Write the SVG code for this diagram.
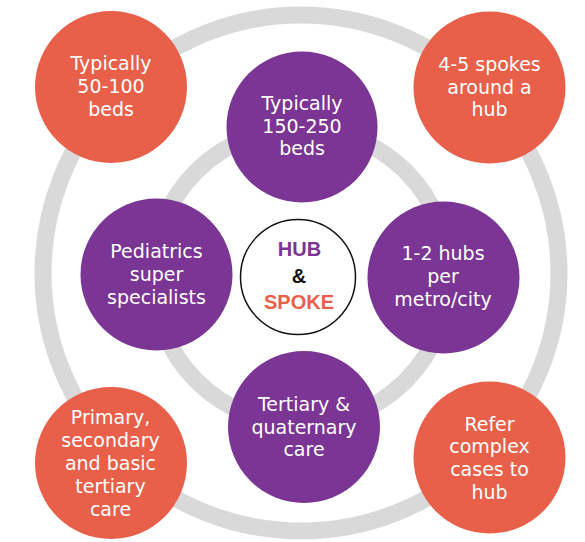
<svg xmlns="http://www.w3.org/2000/svg" width="585" height="542" viewBox="0 0 585 542">
  <style>
    .ring { fill: none; stroke: #D9D9D9; stroke-width: 17; }
    .orange { fill: #E8604A; }
    .purple { fill: #7B3594; }
    .lbl { font-family: "DejaVu Sans", "Noto Sans", sans-serif; font-size: 19px; fill: #FFFFFF; text-anchor: middle; }
    .hub { font-family: "Liberation Sans", Arial, sans-serif; font-weight: bold; font-size: 20px; text-anchor: middle; }
  </style>
  <rect width="585" height="542" fill="#FFFFFF"/>
  <g id="connectors">
    <circle class="ring" cx="301" cy="273" r="258"/>
    <circle class="ring" cx="301" cy="276" r="148"/>
  </g>
  <g id="spoke-beds">
    <circle class="orange" cx="111" cy="87" r="76"/>
    <text class="lbl"><tspan x="111" y="70">Typically</tspan><tspan x="111" y="93">50-100</tspan><tspan x="111" y="115.5">beds</tspan></text>
  </g>
  <g id="spoke-count">
    <circle class="orange" cx="489.5" cy="87.5" r="76"/>
    <text class="lbl"><tspan x="489.5" y="70.5">4-5 spokes</tspan><tspan x="489.5" y="93.5">around a</tspan><tspan x="489.5" y="116">hub</tspan></text>
  </g>
  <g id="spoke-care">
    <circle class="orange" cx="111" cy="463" r="76"/>
    <text class="lbl"><tspan x="110.5" y="423.5">Primary,</tspan><tspan x="110.5" y="446.5">secondary</tspan><tspan x="110.5" y="469.5">and basic</tspan><tspan x="110.5" y="492.5">tertiary</tspan><tspan x="110.5" y="515.5">care</tspan></text>
  </g>
  <g id="spoke-refer">
    <circle class="orange" cx="489.5" cy="457.5" r="76"/>
    <text class="lbl"><tspan x="489.5" y="430.5">Refer</tspan><tspan x="489.5" y="453">complex</tspan><tspan x="489.5" y="475.5">cases to</tspan><tspan x="489.5" y="498.5">hub</tspan></text>
  </g>
  <g id="hub-beds">
    <circle class="purple" cx="302" cy="127" r="75.5"/>
    <text class="lbl"><tspan x="302" y="110">Typically</tspan><tspan x="302" y="132.5">150-250</tspan><tspan x="302" y="155">beds</tspan></text>
  </g>
  <g id="hub-pediatrics">
    <circle class="purple" cx="156.5" cy="274.5" r="76"/>
    <text class="lbl"><tspan x="156.5" y="258">Pediatrics</tspan><tspan x="156.5" y="281">super</tspan><tspan x="156.5" y="304">specialists</tspan></text>
  </g>
  <g id="hub-count">
    <circle class="purple" cx="443.5" cy="277.5" r="76"/>
    <text class="lbl"><tspan x="443" y="260">1-2 hubs</tspan><tspan x="443" y="282.5">per</tspan><tspan x="443" y="305.5">metro/city</tspan></text>
  </g>
  <g id="hub-care">
    <circle class="purple" cx="304" cy="427" r="76"/>
    <text class="lbl"><tspan x="304" y="410.5">Tertiary &amp;</tspan><tspan x="304" y="433.5">quaternary</tspan><tspan x="304" y="456">care</tspan></text>
  </g>
  <g id="center">
    <circle cx="298" cy="277" r="57.5" fill="#FFFFFF" stroke="#111111" stroke-width="1.5"/>
    <text class="hub" x="299.5" y="255.5" fill="#7B3594">HUB</text>
    <text class="hub" x="299" y="282.5" fill="#111111">&amp;</text>
    <text class="hub" x="299" y="308.5" fill="#E8604A">SPOKE</text>
  </g>
</svg>
